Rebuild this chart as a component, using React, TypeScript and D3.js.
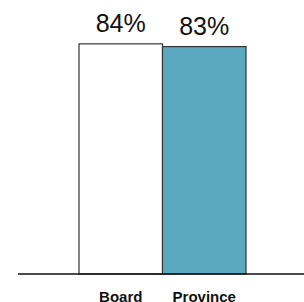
import React from "react";
import * as d3 from "d3";

const categories = ["Board", "Province"];
const values = [84, 83];
const valueLabels = ["84%", "83%"];
const fills = ["#ffffff", "#5ba9c1"];

const width = 304;
const height = 302;

export default function App() {
  const x = d3.scaleBand<string>().domain(categories).range([79, 246]).padding(0);
  const y = d3.scaleLinear().domain([0, 100]).range([274, 0]);
  const font = "'Liberation Sans', Arial, Helvetica, sans-serif";

  return (
    <svg
      width={width}
      height={height}
      style={{ position: "absolute", left: 0, top: 0, background: "#fff" }}
    >
      {categories.map((c, i) => (
        <g key={c}>
          <rect
            x={x(c)}
            y={y(values[i])}
            width={x.bandwidth()}
            height={y(0) - y(values[i])}
            fill={fills[i]}
            stroke="#333"
            strokeWidth={1.2}
          />
          <text
            x={(x(c) || 0) + x.bandwidth() / 2}
            y={y(values[i]) - 12}
            textAnchor="middle"
            fontFamily={font}
            fontSize={25}
            fill="#111"
          >
            {valueLabels[i]}
          </text>
          <text
            x={(x(c) || 0) + x.bandwidth() / 2}
            y={302}
            textAnchor="middle"
            fontFamily={font}
            fontSize={15}
            fontWeight="bold"
            fill="#111"
          >
            {c}
          </text>
        </g>
      ))}
      <line x1={18} x2={width} y1={y(0)} y2={y(0)} stroke="#111" strokeWidth={1.6} />
    </svg>
  );
}
